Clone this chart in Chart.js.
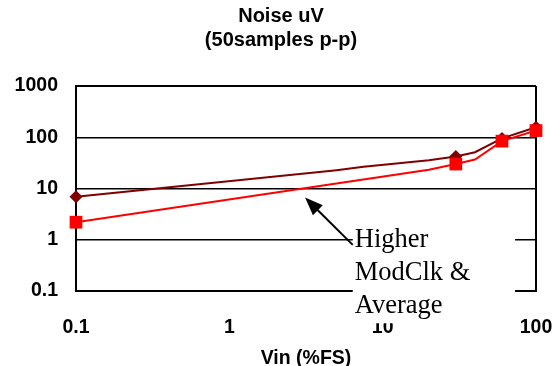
<!DOCTYPE html>
<html><head><meta charset="utf-8">
<style>html,body{margin:0;padding:0;background:#fff;overflow:hidden}
#wrap{width:553px;height:366px;position:relative}</style>
<script src="https://cdn.jsdelivr.net/npm/chart.js@4"></script>
</head><body><div id="wrap"><canvas id="c" width="553" height="366"></canvas></div>
<script>
const vinTicks = [0.1, 1, 10, 100];
const noiseTicks = [0.1, 1, 10, 100, 1000];
const darkVin = [0.1, 5, 7.5, 20, 30, 40, 60, 100];
const darkNoise = [6.9, 22.8, 26.5, 35.6, 42, 51, 95, 157];
const redVin = [0.1, 20, 30, 40, 60, 100];
const redNoise = [2.2, 23.3, 30, 36.8, 84, 135];
const markerVin = [0.1, 30, 60, 100];
const titleLines = ['Noise uV', '(50samples p-p)'];
const xTitle = 'Vin (%FS)';
const noteLines = ['Higher', 'ModClk &', 'Average'];
const noteTip = {x: 3.12, y: 6.67};
const noteTail = {x: 6.38, y: 0.793};
const noteBox = {x0: 6.38, x1: 73, y0: 2.2, y1: 0.0235};

const bold = (s, lh) => ({family: '"Liberation Sans", Arial, sans-serif', size: s, weight: 'bold', lineHeight: lh || 1.2});

const notePlugin = {
  id: 'note',
  afterDraw(chart) {
    const {ctx} = chart;
    const x = chart.scales.x, y = chart.scales.y;
    const bx0 = x.getPixelForValue(noteBox.x0), bx1 = x.getPixelForValue(noteBox.x1);
    const by0 = y.getPixelForValue(noteBox.y0), by1 = y.getPixelForValue(noteBox.y1);
    ctx.save();
    ctx.fillStyle = '#fff';
    ctx.fillRect(bx0, by0, bx1 - bx0, by1 - by0);
    const tx = x.getPixelForValue(noteTip.x), ty = y.getPixelForValue(noteTip.y);
    const ex = x.getPixelForValue(noteTail.x), ey = y.getPixelForValue(noteTail.y);
    const ang = Math.atan2(ty - ey, tx - ex);
    const hl = 18, hw = 7;
    ctx.strokeStyle = '#000'; ctx.lineWidth = 2;
    ctx.beginPath(); ctx.moveTo(ex, ey);
    ctx.lineTo(tx - Math.cos(ang) * hl * 0.8, ty - Math.sin(ang) * hl * 0.8);
    ctx.stroke();
    const hx = tx - Math.cos(ang) * hl, hy = ty - Math.sin(ang) * hl;
    ctx.beginPath(); ctx.moveTo(tx, ty);
    ctx.lineTo(hx + Math.sin(ang) * hw, hy - Math.cos(ang) * hw);
    ctx.lineTo(hx - Math.sin(ang) * hw, hy + Math.cos(ang) * hw);
    ctx.closePath(); ctx.fillStyle = '#000'; ctx.fill();
    ctx.font = '26.5px "Liberation Serif", "Times New Roman", serif';
    ctx.textBaseline = 'alphabetic'; ctx.textAlign = 'left';
    noteLines.forEach((t, i) => ctx.fillText(t, bx0 + 2, by0 + 25 + i * 33));
    ctx.restore();
  }
};

const markerRadius = r => ctx => (ctx.raw && markerVin.includes(ctx.raw.x)) ? r : 0;

new Chart(document.getElementById('c'), {
  type: 'scatter',
  data: {
    datasets: [
      {
        label: 'Higher ModClk & Average',
        data: redVin.map((v, i) => ({x: v, y: redNoise[i]})),
        showLine: true, borderColor: '#FF0000', backgroundColor: '#FF0000',
        borderWidth: 2, pointStyle: 'rect', pointRadius: markerRadius(9),
        pointBorderWidth: 0, pointHoverRadius: markerRadius(9), tension: 0, clip: false
      },
      {
        label: 'Noise',
        data: darkVin.map((v, i) => ({x: v, y: darkNoise[i]})),
        showLine: true, borderColor: '#800000', backgroundColor: '#800000',
        borderWidth: 2, pointStyle: 'rectRot', pointRadius: markerRadius(6.5),
        pointBorderWidth: 0, pointHoverRadius: markerRadius(6.5), tension: 0, clip: false
      }
    ]
  },
  options: {
    responsive: false, animation: false, devicePixelRatio: 1,
    layout: {padding: {left: 12, right: 3, top: 0, bottom: 0}},
    plugins: {
      legend: {display: false},
      tooltip: {enabled: false},
      title: {display: true, text: titleLines, color: '#000', font: bold(20, 1.2), padding: {top: 4, bottom: 34}}
    },
    scales: {
      x: {
        type: 'logarithmic', position: 'bottom', min: 0.1, max: 100,
        afterBuildTicks: s => { s.ticks = vinTicks.map(v => ({value: v})); },
        afterFit: s => { s.height = 75; s.paddingLeft = 0; s.paddingRight = 17; },
        ticks: {callback: v => String(v), color: '#000', font: bold(19.5), padding: 25, maxRotation: 0, autoSkip: false},
        grid: {drawTicks: false, lineWidth: 2, color: c => (c.tick && c.tick.value === 100) ? '#000' : 'rgba(0,0,0,0)'},
        border: {display: true, color: '#000', width: 2},
        title: {display: true, text: xTitle, color: '#000', font: bold(19.5, 0.8), padding: 0}
      },
      y: {
        type: 'logarithmic', position: 'left', min: 0.1, max: 1000,
        afterBuildTicks: s => { s.ticks = noiseTicks.map(v => ({value: v})); },
        afterFit: s => { s.width = 64; },
        ticks: {callback: v => String(v), color: '#000', font: bold(19.5), padding: 18, autoSkip: false},
        grid: {drawTicks: false, color: '#000', lineWidth: c => (c.tick && c.tick.value === 1000) ? 2 : 1.5},
        border: {display: true, color: '#000', width: 2}
      }
    }
  },
  plugins: [notePlugin]
});
</script></body></html>
